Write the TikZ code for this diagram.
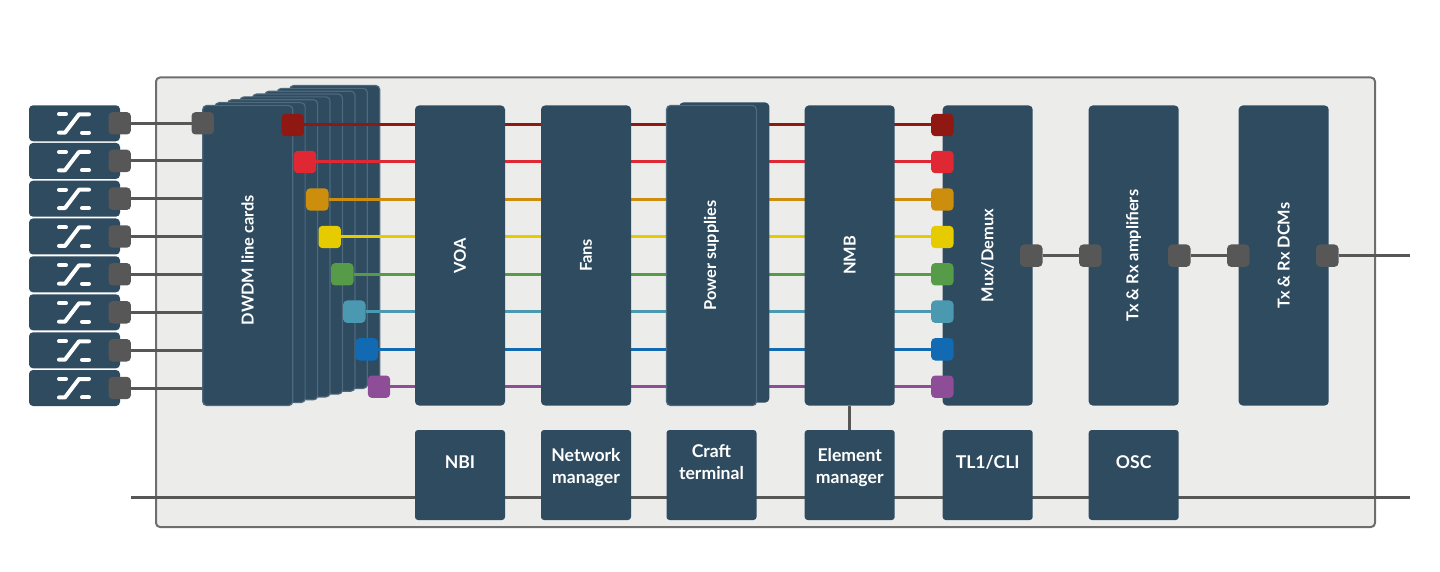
\documentclass[tikz,border=0pt]{standalone}
\usepackage{fontspec}
\setmainfont{Lato}
\definecolor{cecebe9}{RGB}{236,236,235}
\definecolor{c2f4b60}{RGB}{47,75,96}
\definecolor{c4e687c}{RGB}{78,104,124}
\definecolor{c575757}{RGB}{87,87,87}
\definecolor{c6e6e6e}{RGB}{110,110,110}
\definecolor{c8f1813}{RGB}{143,24,19}
\definecolor{ce02734}{RGB}{224,39,52}
\definecolor{ccc8e0c}{RGB}{204,142,12}
\definecolor{ce5cb00}{RGB}{229,203,0}
\definecolor{c569b47}{RGB}{86,155,71}
\definecolor{c4b99b0}{RGB}{75,153,176}
\definecolor{c116ab2}{RGB}{17,106,178}
\definecolor{c8e4e97}{RGB}{142,78,151}
\pgfdeclarelayer{frame}
\pgfdeclarelayer{stack}
\pgfdeclarelayer{wires}
\pgfsetlayers{frame,stack,wires,main}
\tikzset{
  talltext/.style={rotate=90,text=white,font=\bfseries\fontsize{8.2}{10}\selectfont},
  tallbox/.style={talltext,fill=c2f4b60,rounded corners=2pt,minimum width=150pt,minimum height=45pt},
  cardbox/.style={tallbox,draw=c4e687c,line width=0.6pt},
  lowbox/.style={fill=c2f4b60,rounded corners=1.5pt,minimum width=45pt,minimum height=45pt},
  lowtext/.style={text=white,align=center,font=\bfseries\fontsize{8.8}{11}\selectfont},
  switchbox/.style={fill=c2f4b60,rounded corners=2pt,minimum width=45.5pt,minimum height=18pt},
  portbox/.style={fill=#1,rounded corners=2pt,minimum width=11.2pt,minimum height=11.2pt},
  greywire/.style={draw=c575757,line width=1.5pt},
  colorwire/.style={draw=#1,line width=1.5pt},
  iconline/.style={draw=white,line width=2pt,line cap=round,line join=round},
  switchicon/.pic={
    \path[iconline] (-15,9) -- (-8,9);
    \path[iconline] (-15,-9.4) -- (-9,-9.4) -- (5,9) -- (15,9);
    \path[iconline] (8,-9.4) -- (15,-9.4);
  }
}
\begin{document}
\begin{tikzpicture}[y=0.5pt, x=0.5pt, yscale=-1, inner sep=0pt, outer sep=0pt]
  \useasboundingbox (0,0) rectangle (1440,572);
  \begin{pgfonlayer}{frame}
    \path[draw=c6e6e6e,fill=cecebe9,line width=1pt,rounded corners=2pt] (156,77.5) rectangle (1375,527);
  \end{pgfonlayer}

  % line cards, back to front
  \begin{pgfonlayer}{stack}
    \node[cardbox] (card8) at (334.7,235.5) {};
    \node[cardbox] (card7) at (322.3,238.4) {};
    \node[cardbox] (card6) at (309.9,241.2) {};
    \node[cardbox] (card5) at (297.4,244.1) {};
    \node[cardbox] (card4) at (285.0,246.9) {};
    \node[cardbox] (card3) at (272.6,249.8) {};
    \node[cardbox] (card2) at (260.1,252.6) {};
    \node[cardbox] (card1) at (247.7,255.5) {};
  \end{pgfonlayer}
  \node[talltext] (cardtext) at (247.7,260) {DWDM line cards};

  % switches
  \node[switchbox] (sw1) at (74.5,123.3) {};
  \node[switchbox] (sw2) at (74.5,160.9) {};
  \node[switchbox] (sw3) at (74.5,198.7) {};
  \node[switchbox] (sw4) at (74.5,236.5) {};
  \node[switchbox] (sw5) at (74.5,274.3) {};
  \node[switchbox] (sw6) at (74.5,312.3) {};
  \node[switchbox] (sw7) at (74.5,350.3) {};
  \node[switchbox] (sw8) at (74.5,388.0) {};
  \pic (icon1) at (74,123.3) {switchicon};
  \pic (icon2) at (74,160.9) {switchicon};
  \pic (icon3) at (74,198.7) {switchicon};
  \pic (icon4) at (74,236.5) {switchicon};
  \pic (icon5) at (74,274.3) {switchicon};
  \pic (icon6) at (74,312.3) {switchicon};
  \pic (icon7) at (74,350.3) {switchicon};
  \pic (icon8) at (74,388.0) {switchicon};

  % tall modules
  \node[tallbox] (voa) at (460,255.5) {VOA};
  \node[tallbox] (fans) at (586,255.5) {Fans};
  \node[tallbox] (powerback) at (724.3,252.5) {};
  \node[cardbox] (power) at (711.5,255.5) {Power supplies};
  \node[tallbox] (nmb) at (849.7,255.5) {NMB};
  \node[tallbox] (mux) at (987.7,255.5) {Mux/Demux};
  \node[tallbox] (amps) at (1133.7,255.5) {Tx \& Rx amplifiers};
  \node[tallbox] (dcms) at (1283.7,255.5) {Tx \& Rx DCMs};

  % lower row
  \node[lowbox] (nbi) at (460,475) {};
  \node[lowbox] (netman) at (586,475) {};
  \node[lowbox] (craft) at (711.5,475) {};
  \node[lowbox] (elman) at (849.7,475) {};
  \node[lowbox] (tl1) at (987.7,475) {};
  \node[lowbox] (osc) at (1133.7,475) {};
  \node[lowtext] (nbitext) at (460,462) {NBI};
  \node[lowtext] (netmantext) at (586,468) {Network\\manager};
  \node[lowtext] (crafttext) at (711.5,462) {Craft\\terminal};
  \node[lowtext] (elmantext) at (849.7,468) {Element\\manager};
  \node[lowtext] (tl1text) at (987.7,462) {TL1/CLI};
  \node[lowtext] (osctext) at (1133.7,462) {OSC};

  % ports
  \node[portbox=c575757] (sp1) at (119.7,123.3) {};
  \node[portbox=c575757] (sp2) at (119.7,160.9) {};
  \node[portbox=c575757] (sp3) at (119.7,198.7) {};
  \node[portbox=c575757] (sp4) at (119.7,236.5) {};
  \node[portbox=c575757] (sp5) at (119.7,274.3) {};
  \node[portbox=c575757] (sp6) at (119.7,312.3) {};
  \node[portbox=c575757] (sp7) at (119.7,350.3) {};
  \node[portbox=c575757] (sp8) at (119.7,388.0) {};
  \node[portbox=c575757] (cardport) at (202.7,123.3) {};
  \node[portbox=c8f1813] (lp1) at (292.7,125) {};
  \node[portbox=ce02734] (lp2) at (305,162) {};
  \node[portbox=ccc8e0c] (lp3) at (317.3,199.5) {};
  \node[portbox=ce5cb00] (lp4) at (329.7,237) {};
  \node[portbox=c569b47] (lp5) at (342.3,274.3) {};
  \node[portbox=c4b99b0] (lp6) at (354.3,311.7) {};
  \node[portbox=c116ab2] (lp7) at (366.7,349.3) {};
  \node[portbox=c8e4e97] (lp8) at (379,386.7) {};
  \node[portbox=c8f1813] (rp1) at (942.3,125) {};
  \node[portbox=ce02734] (rp2) at (942.3,162) {};
  \node[portbox=ccc8e0c] (rp3) at (942.3,199.5) {};
  \node[portbox=ce5cb00] (rp4) at (942.3,237) {};
  \node[portbox=c569b47] (rp5) at (942.3,274.3) {};
  \node[portbox=c4b99b0] (rp6) at (942.3,311.7) {};
  \node[portbox=c116ab2] (rp7) at (942.3,349.3) {};
  \node[portbox=c8e4e97] (rp8) at (942.3,386.7) {};
  \node[portbox=c575757] (muxport) at (1031.3,255.7) {};
  \node[portbox=c575757] (ampin) at (1090.3,255.7) {};
  \node[portbox=c575757] (ampout) at (1179.3,255.7) {};
  \node[portbox=c575757] (dcmin) at (1238.3,255.7) {};
  \node[portbox=c575757] (dcmout) at (1327.3,255.7) {};
  \coordinate (lineend) at (1410,255.7);
  \coordinate (busstart) at (131,497.7);
  \coordinate (busend) at (1410,497.7);

  % connectors
  \begin{pgfonlayer}{wires}
    \path[greywire] (sp1) -- (cardport);
    \path[greywire] (sp2) -- (sp2 -| card1.north);
    \path[greywire] (sp3) -- (sp3 -| card1.north);
    \path[greywire] (sp4) -- (sp4 -| card1.north);
    \path[greywire] (sp5) -- (sp5 -| card1.north);
    \path[greywire] (sp6) -- (sp6 -| card1.north);
    \path[greywire] (sp7) -- (sp7 -| card1.north);
    \path[greywire] (sp8) -- (sp8 -| card1.north);
    \path[colorwire=c8f1813] (lp1) -- (rp1);
    \path[colorwire=ce02734] (lp2) -- (rp2);
    \path[colorwire=ccc8e0c] (lp3) -- (rp3);
    \path[colorwire=ce5cb00] (lp4) -- (rp4);
    \path[colorwire=c569b47] (lp5) -- (rp5);
    \path[colorwire=c4b99b0] (lp6) -- (rp6);
    \path[colorwire=c116ab2] (lp7) -- (rp7);
    \path[colorwire=c8e4e97] (lp8) -- (rp8);
    \path[greywire] (muxport) -- (ampin);
    \path[greywire] (ampout) -- (dcmin);
    \path[greywire] (dcmout) -- (lineend);
    \path[greywire] (busstart) -- (busend);
    \path[greywire] (nmb) -- (elman);
  \end{pgfonlayer}
\end{tikzpicture}
\end{document}
